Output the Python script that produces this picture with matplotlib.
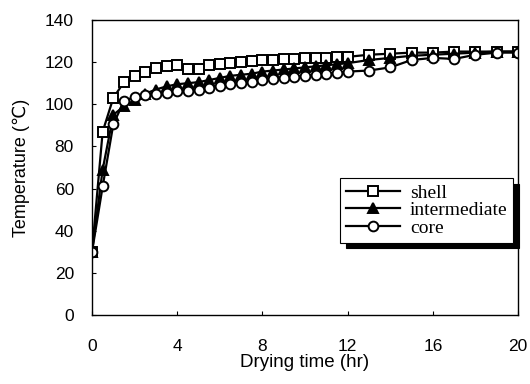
import matplotlib
matplotlib.use("Agg")
import matplotlib.pyplot as plt

# drying time (hr): every 0.5 hr to 12, then hourly
hours = [0, 0.5, 1, 1.5, 2, 2.5, 3, 3.5, 4, 4.5, 5, 5.5, 6, 6.5, 7, 7.5, 8,
         8.5, 9, 9.5, 10, 10.5, 11, 11.5, 12, 13, 14, 15, 16, 17, 18, 19, 20]

shell = [30, 87, 103, 110.5, 113.5, 115.5, 117, 118, 118.5, 116.5, 116.5, 118.5,
         119, 119.5, 120, 120.5, 121, 121, 121.5, 121.5, 122, 122, 122, 122.5,
         122.5, 123.5, 124, 124.5, 124.5, 125, 125, 125, 125]
intermediate = [30, 69, 95, 99, 102, 105, 107, 108.5, 109.5, 110, 110.5, 111.5,
                112.5, 113.5, 114, 114.5, 115.5, 116, 116.5, 117, 117.5, 118,
                118.5, 119, 119.5, 121, 122, 123, 123.5, 124, 124.5, 125, 125]
core = [30, 61, 90.5, 101.5, 103.5, 104.5, 105, 105.5, 106.5, 106.5, 107, 107.5,
        108.5, 109.5, 110, 110.5, 111.5, 112, 112.5, 113, 113.5, 114, 114.5,
        115, 115.5, 116, 117.5, 121, 122, 121.5, 123.5, 124.5, 124.5]

plt.rcParams['font.family'] = ['Liberation Sans', 'DejaVu Sans']

fig = plt.figure(figsize=(5.3, 3.84), dpi=100)
ax = fig.add_axes([0.1736, 0.1797, 0.8038, 0.7683])

mk = dict(color="black", linewidth=1.6, markersize=7,
          markeredgewidth=1.4, markeredgecolor="black")
ax.plot(hours, shell, marker="s", markerfacecolor="white", label="shell", **mk)
ax.plot(hours, intermediate, marker="^", markerfacecolor="black",
        label="intermediate", **mk)
ax.plot(hours, core, marker="o", markerfacecolor="white", label="core", **mk)

ax.set_xlim(0, 20)
ax.set_ylim(0, 140)
ax.set_xticks([0, 4, 8, 12, 16, 20])
ax.set_yticks(range(0, 141, 20))
ax.tick_params(direction="in", length=3, labelsize=12.5)
ax.tick_params(axis="x", pad=17)
ax.tick_params(axis="y", pad=13)
ax.set_xlabel("Drying time (hr)", fontsize=13.5, labelpad=0)
ax.set_ylabel("Temperature (\u2103)", fontsize=13, labelpad=11)
for s in ax.spines.values():
    s.set_linewidth(1.0)

leg = ax.legend(loc="upper left", bbox_to_anchor=(0.582, 0.464),
                fancybox=False, edgecolor="black", framealpha=1,
                shadow={"color": "black", "alpha": 1, "ox": 4, "oy": -4},
                prop={"family": "Liberation Serif", "size": 14},
                handlelength=2.8, borderpad=0.3, labelspacing=0.0,
                handletextpad=0.5, borderaxespad=0)
leg.get_frame().set_linewidth(0.8)

fig.savefig("out.png", dpi=100)
